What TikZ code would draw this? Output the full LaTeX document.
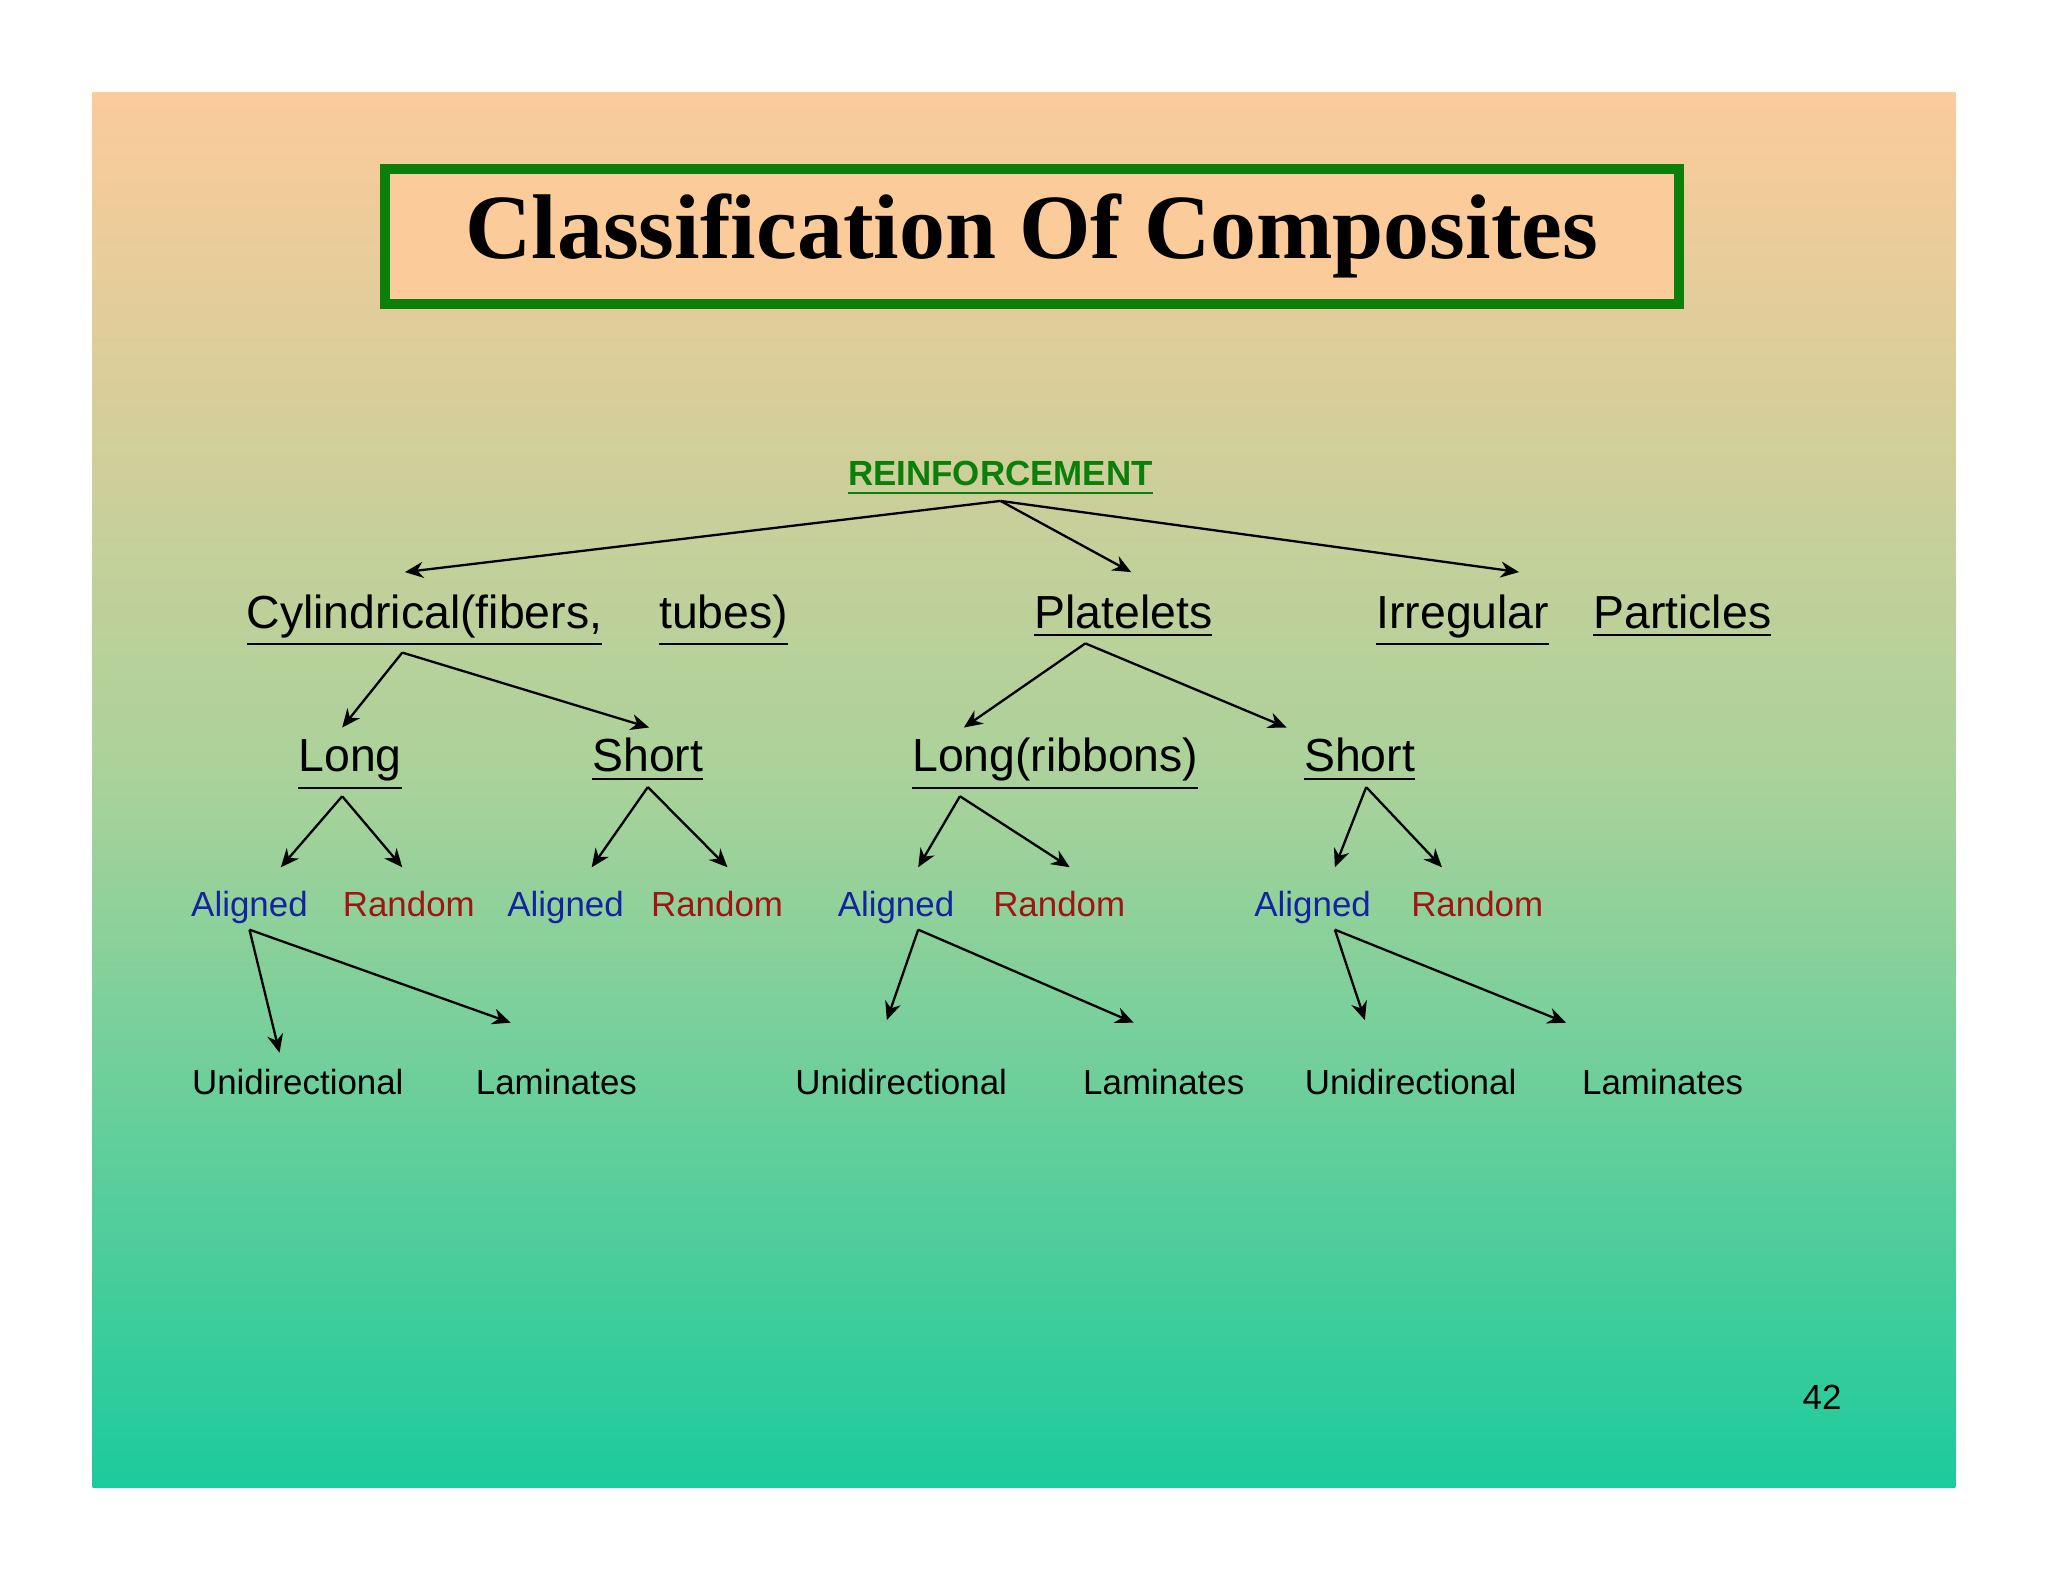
\documentclass[tikz,border=0pt]{standalone}
\usepackage{fontspec}
\setmainfont{Liberation Sans}
\newfontfamily\titlefont{Liberation Serif}
\usetikzlibrary{arrows.meta}
\definecolor{peach}{HTML}{FCCB9A}
\definecolor{midgreen}{HTML}{A8D29A}
\definecolor{sea}{HTML}{1CCB9C}
\definecolor{boxgreen}{HTML}{0A800A}
\definecolor{algblue}{HTML}{1424A0}
\definecolor{rndred}{HTML}{A01414}
\tikzset{
  arr/.style={-{Stealth[length=4pt,width=3.5pt]},line width=0.5pt},
  big/.style={inner sep=1pt,anchor=base,font=\fontsize{10.1pt}{12pt}\selectfont},
  small/.style={inner sep=1pt,anchor=base,font=\fontsize{7.6pt}{9pt}\selectfont},
  aligned/.style={small,text=algblue},
  random/.style={small,text=rndred}
}
\begin{document}
\begin{tikzpicture}[x=0.01cm,y=-0.01cm]
\useasboundingbox (0,0) rectangle (1568,1211);
% slide background
\shade[top color=peach,bottom color=sea,middle color=midgreen] (71,71) rectangle (1497,1139);
% title
\node[draw=boxgreen,line width=2.2pt,fill=peach,minimum width=9.9cm,minimum height=1.03cm,
  font=\titlefont\bfseries\fontsize{20pt}{24pt}\selectfont] (title) at (790,181) {Classification Of Composites};
% levels
\node[inner sep=1pt,anchor=base,text=boxgreen,font=\bfseries\fontsize{7.6pt}{9pt}\selectfont] (reinf) at (766,372) {\underline{REINFORCEMENT}};
\node[big] (cyl) at (325,481) {\underline{Cylindrical(fibers,}};
\node[big] (tubes) at (554,481) {\underline{tubes)}};
\node[big] (plat) at (860,481) {\underline{Platelets}};
\node[big] (irreg) at (1120,481) {\underline{Irregular}};
\node[big] (part) at (1288,481) {\underline{Particles}};
\node[big] (long) at (268,591) {\underline{Long}};
\node[big] (short) at (496,591) {\underline{Short}};
\node[big] (ribbon) at (808,591) {\underline{Long(ribbons)}};
\node[big] (shortb) at (1041,591) {\underline{Short}};
\node[aligned] (alA) at (191,702) {Aligned};
\node[random] (rnA) at (313,702) {Random};
\node[aligned] (alB) at (433,702) {Aligned};
\node[random] (rnB) at (549,702) {Random};
\node[aligned] (alC) at (686,702) {Aligned};
\node[random] (rnC) at (811,702) {Random};
\node[aligned] (alD) at (1005,702) {Aligned};
\node[random] (rnD) at (1131,702) {Random};
\node[small] (uniA) at (228,838) {Unidirectional};
\node[small] (lamA) at (426,838) {Laminates};
\node[small] (uniC) at (690,838) {Unidirectional};
\node[small] (lamC) at (891,838) {Laminates};
\node[small] (uniD) at (1080,838) {Unidirectional};
\node[small] (lamD) at (1273,838) {Laminates};
\node[small] (page) at (1395,1079) {42};
% arrow tips
\coordinate (tcyl) at (310,438);  \coordinate (tplat) at (866,438); \coordinate (tirr) at (1163,438);
\coordinate (tlong) at (262,557); \coordinate (tshort) at (497,557);
\coordinate (trib) at (738,557);  \coordinate (tshortb) at (985,557);
\coordinate (talA) at (215,664); \coordinate (trnA) at (308,664);
\coordinate (talB) at (453,664); \coordinate (trnB) at (557,664);
\coordinate (talC) at (703,664); \coordinate (trnC) at (819,664);
\coordinate (talD) at (1022,664); \coordinate (trnD) at (1104,664);
\coordinate (tuniA) at (214,806); \coordinate (tlamA) at (391,783);
\coordinate (tuniC) at (679,781); \coordinate (tlamC) at (868,783);
\coordinate (tuniD) at (1045,781); \coordinate (tlamD) at (1199,783);
% connectors
\foreach \tip in {tcyl,tplat,tirr} \draw[arr] (reinf.south) -- (\tip);
\foreach \tip in {tlong,tshort} \draw[arr] ([xshift=-0.17cm]cyl.south) -- (\tip);
\foreach \tip in {trib,tshortb} \draw[arr] ([xshift=-0.29cm]plat.south) -- (\tip);
\foreach \tip in {talA,trnA} \draw[arr] ([xshift=-0.06cm]long.south) -- (\tip);
\foreach \tip in {talB,trnB} \draw[arr] (short.south) -- (\tip);
\foreach \tip in {talC,trnC} \draw[arr] ([xshift=-0.73cm]ribbon.south) -- (\tip);
\foreach \tip in {talD,trnD} \draw[arr] ([xshift=0.05cm]shortb.south) -- (\tip);
\foreach \tip in {tuniA,tlamA} \draw[arr] (alA.south) -- (\tip);
\foreach \tip in {tuniC,tlamC} \draw[arr] ([xshift=0.17cm]alC.south) -- (\tip);
\foreach \tip in {tuniD,tlamD} \draw[arr] ([xshift=0.17cm]alD.south) -- (\tip);
\end{tikzpicture}
\end{document}
